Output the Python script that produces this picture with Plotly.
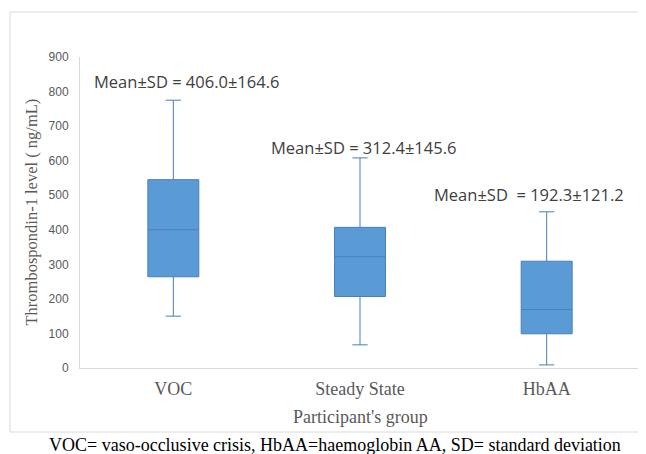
import plotly.graph_objects as go

groups = ["VOC", "Steady State", "HbAA"]
lower_whisker = [150, 67, 9]
q1_vals = [264, 207, 99]
median_vals = [400, 322, 169]
q3_vals = [545, 407, 309]
upper_whisker = [775, 608, 452]
mean_sd_labels = ["Mean±SD = 406.0±164.6", "Mean±SD = 312.4±145.6", "Mean±SD  = 192.3±121.2"]
y_ticks = [0, 100, 200, 300, 400, 500, 600, 700, 800, 900]

fig = go.Figure()
fig.add_trace(go.Box(
    x=groups,
    q1=q1_vals, median=median_vals, q3=q3_vals,
    lowerfence=lower_whisker, upperfence=upper_whisker,
    fillcolor="#5B9BD5",
    line=dict(color="#4A7EBB", width=1),
    whiskerwidth=0.3,
    width=0.273,
    boxpoints=False,
    hoverinfo="skip",
    showlegend=False,
))

ann_pos = [(-0.436, 828), (0.5125, 639), (1.386, 503)]
for (ax, ay), txt in zip(ann_pos, mean_sd_labels):
    fig.add_annotation(x=ax, y=ay, xref="x", yref="y", text=txt, showarrow=False,
                       xanchor="left", yanchor="middle",
                       font=dict(family="Open Sans", size=16.5, color="#404040"))

fig.add_annotation(x=0.5, y=-0.1566, xref="paper", yref="paper", text="Participant's group",
                   showarrow=False, xanchor="center", yanchor="middle",
                   font=dict(family="Liberation Serif", size=18, color="#595959"))
fig.add_annotation(x=-0.0875, y=0.5, xref="paper", yref="paper", text="Thrombospondin-1 level ( ng/mL)",
                   showarrow=False, textangle=-90, xanchor="center", yanchor="middle",
                   font=dict(family="Liberation Serif", size=16.5, color="#595959"))
fig.add_annotation(x=-0.0595, y=-0.246, xref="paper", yref="paper",
                   text="VOC= vaso-occlusive crisis, HbAA=haemoglobin AA, SD= standard deviation",
                   showarrow=False, xanchor="left", yanchor="middle",
                   font=dict(family="Liberation Serif", size=18, color="#000000"))

fig.add_shape(type="rect", xref="paper", yref="paper",
              x0=-0.125, x1=1.05, y0=-0.2058, y1=1.1447,
              line=dict(color="#D9D9D9", width=1), fillcolor="rgba(0,0,0,0)", layer="below")

# page body has an 8px margin, so the figure is 8px smaller and offset
fig.update_layout(
    width=638, height=446,
    margin=dict(l=72, r=6, t=49, b=86),
    paper_bgcolor="white", plot_bgcolor="white",
    xaxis=dict(type="category", range=[-0.5, 2.5], showline=True, linecolor="#D9D9D9", linewidth=1,
               showgrid=False, zeroline=False, ticks="", ticklabelstandoff=4,
               tickfont=dict(family="Liberation Serif", size=18, color="#595959")),
    yaxis=dict(range=[0, 900], tickvals=y_ticks, showline=True, linecolor="#D9D9D9", linewidth=1,
               showgrid=False, zeroline=False, ticks="", ticklabelstandoff=8,
               tickfont=dict(family="Liberation Sans", size=12, color="#595959")),
)

fig.write_html("out.html")
